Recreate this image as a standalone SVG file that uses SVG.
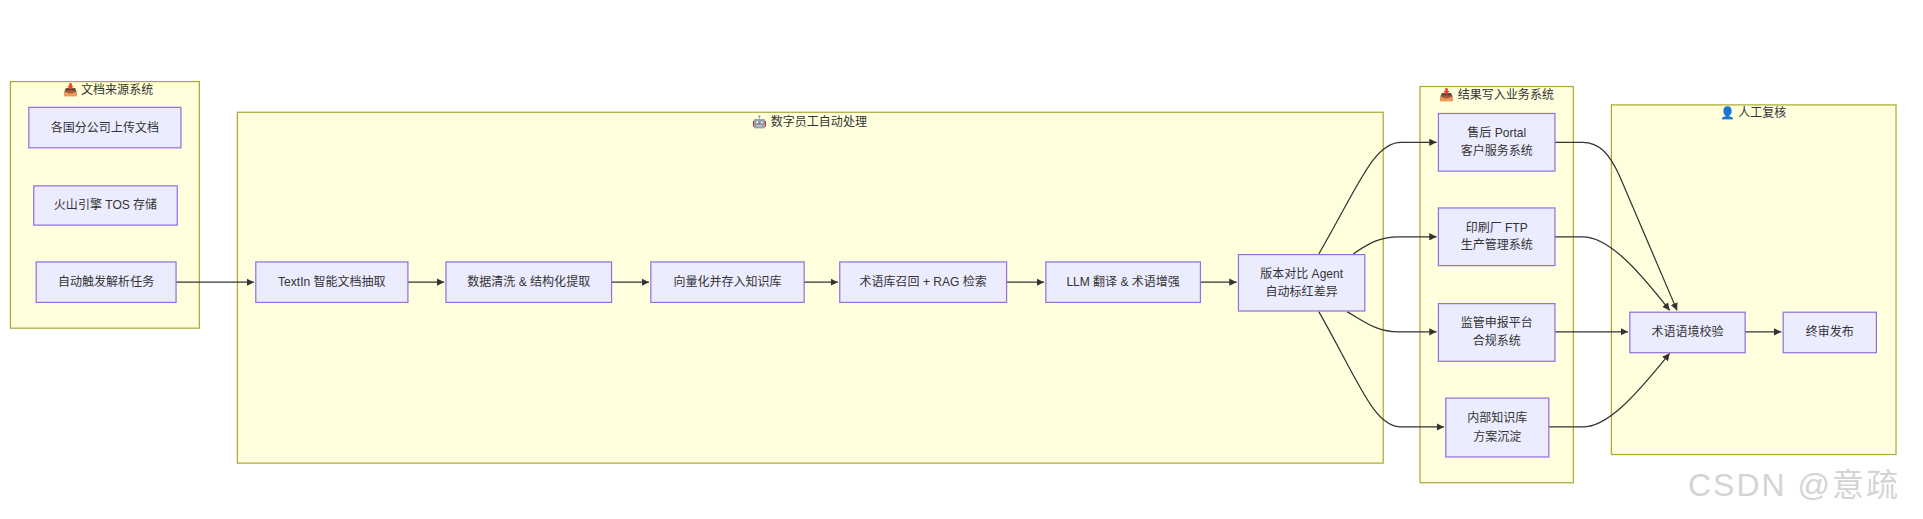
<svg xmlns="http://www.w3.org/2000/svg" width="1923" height="519" viewBox="0 0 1923 519">
<style>
.cl{fill:#ffffde;stroke:#aaaa33;stroke-width:1}
.nd{fill:#ececff;stroke:#9370db;stroke-width:1}
.t{font-family:"Liberation Sans","Noto Sans CJK SC",sans-serif;font-size:9.8px;fill:#333;text-anchor:middle;dominant-baseline:central}
.e{fill:none;stroke:#333;stroke-width:1}
.wm{font-family:"Liberation Sans","Noto Sans CJK SC",sans-serif;font-size:32px;letter-spacing:2px;fill:#d4d4d4}
</style>
<defs>
<marker id="ah" viewBox="0 0 10 10" refX="10" refY="5" markerWidth="6" markerHeight="6" markerUnits="userSpaceOnUse" orient="auto">
<path d="M0,0 L10,5 L0,10 z" fill="#333"/>
</marker>
</defs>
<rect width="1923" height="519" fill="#ffffff"/>
<g transform="scale(1.2268)">
<g id="cluster-source">
<rect class="cl" x="8.5" y="66.5" width="154" height="201"/>
<text class="t" x="88" y="73.5">📥 文档来源系统</text>
</g>
<g id="cluster-digital">
<rect class="cl" x="193.5" y="91.5" width="934" height="286"/>
<text class="t" x="660" y="99.5">🤖 数字员工自动处理</text>
</g>
<g id="cluster-write">
<rect class="cl" x="1157.5" y="70.5" width="125" height="323"/>
<text class="t" x="1220" y="77.5">📥 结果写入业务系统</text>
</g>
<g id="cluster-review">
<rect class="cl" x="1313.5" y="85.5" width="232" height="285"/>
<text class="t" x="1429" y="92">👤 人工复核</text>
</g>

<g id="connectors">
<path class="e" d="M143,230 L207,230" marker-end="url(#ah)"/>
<path class="e" d="M332,230 L362,230" marker-end="url(#ah)"/>
<path class="e" d="M498,230 L529,230" marker-end="url(#ah)"/>
<path class="e" d="M655,230 L683,230" marker-end="url(#ah)"/>
<path class="e" d="M820,230 L851,230" marker-end="url(#ah)"/>
<path class="e" d="M978,230 L1008,230" marker-end="url(#ah)"/>
<path class="e" d="M1075,207 C1108,150 1120,116 1142,116 L1171,116" marker-end="url(#ah)"/>
<path class="e" d="M1103,207 C1115,199 1124,193 1140,193 L1171,193" marker-end="url(#ah)"/>
<path class="e" d="M1098,254 C1112,262 1122,270.5 1140,270.5 L1171,270.5" marker-end="url(#ah)"/>
<path class="e" d="M1075,254 C1108,312 1120,348 1142,348 L1177,348" marker-end="url(#ah)"/>
<path class="e" d="M1267,116 L1290,116 C1304,116 1312,126 1320,143 L1367,253" marker-end="url(#ah)"/>
<path class="e" d="M1267,193 L1290,193 C1310,193 1332,216 1361,253" marker-end="url(#ah)"/>
<path class="e" d="M1267,270.5 L1327,270.5" marker-end="url(#ah)"/>
<path class="e" d="M1262,348 L1290,348 C1310,348 1332,324 1361,288" marker-end="url(#ah)"/>
<path class="e" d="M1422,270.5 L1452,270.5" marker-end="url(#ah)"/>
</g>

<g id="n-upload"><rect class="nd" x="23.5" y="87.5" width="124" height="33"/><text class="t" x="85.5" y="104">各国分公司上传文档</text></g>
<g id="n-tos"><rect class="nd" x="27.5" y="151.5" width="117" height="32"/><text class="t" x="86" y="167.5">火山引擎 TOS 存储</text></g>
<g id="n-trigger"><rect class="nd" x="29.5" y="213.5" width="114" height="33"/><text class="t" x="86.5" y="230">自动触发解析任务</text></g>

<g id="n-textin"><rect class="nd" x="208.5" y="213.5" width="124" height="33"/><text class="t" x="270.5" y="230">TextIn 智能文档抽取</text></g>
<g id="n-clean"><rect class="nd" x="363.5" y="213.5" width="135" height="33"/><text class="t" x="431" y="230">数据清洗 &amp; 结构化提取</text></g>
<g id="n-vector"><rect class="nd" x="530.5" y="213.5" width="125" height="33"/><text class="t" x="593" y="230">向量化并存入知识库</text></g>
<g id="n-rag"><rect class="nd" x="684.5" y="213.5" width="136" height="33"/><text class="t" x="752.5" y="230">术语库召回 + RAG 检索</text></g>
<g id="n-llm"><rect class="nd" x="852.5" y="213.5" width="126" height="33"/><text class="t" x="915.5" y="230">LLM 翻译 &amp; 术语增强</text></g>
<g id="n-agent"><rect class="nd" x="1009.5" y="207.5" width="103" height="46"/><text class="t" x="1061" y="223">版本对比 Agent</text><text class="t" x="1061" y="238">自动标红差异</text></g>

<g id="n-portal"><rect class="nd" x="1172.5" y="92.5" width="95" height="47"/><text class="t" x="1220" y="108.5">售后 Portal</text><text class="t" x="1220" y="123">客户服务系统</text></g>
<g id="n-ftp"><rect class="nd" x="1172.5" y="169.5" width="95" height="47"/><text class="t" x="1220" y="185.5">印刷厂 FTP</text><text class="t" x="1220" y="200">生产管理系统</text></g>
<g id="n-reg"><rect class="nd" x="1172.5" y="247.5" width="95" height="47"/><text class="t" x="1220" y="263">监管申报平台</text><text class="t" x="1220" y="278">合规系统</text></g>
<g id="n-kb"><rect class="nd" x="1178.5" y="324.5" width="84" height="48"/><text class="t" x="1220.5" y="341">内部知识库</text><text class="t" x="1220.5" y="356">方案沉淀</text></g>

<g id="n-check"><rect class="nd" x="1328.5" y="254.5" width="94" height="33"/><text class="t" x="1375.5" y="271">术语语境校验</text></g>
<g id="n-final"><rect class="nd" x="1453.5" y="254.5" width="76" height="33"/><text class="t" x="1491.5" y="271">终审发布</text></g>
</g>
<text class="wm" x="1688" y="496">CSDN @意疏</text>
</svg>
